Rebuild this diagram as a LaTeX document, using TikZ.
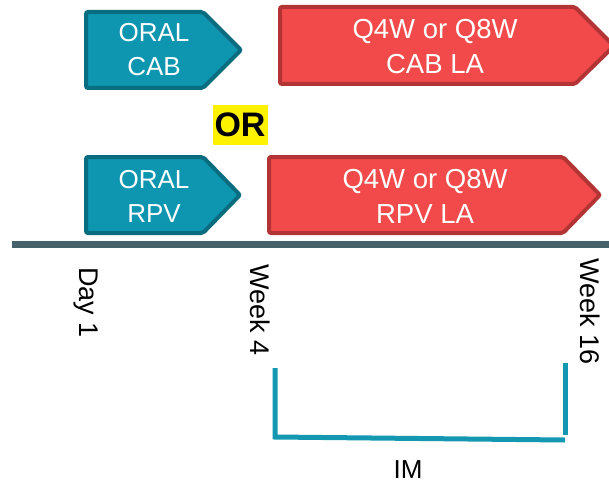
\documentclass[tikz,border=0pt]{standalone}
\usepackage{fontspec}
\setmainfont{Liberation Sans}

\definecolor{oralfill}{HTML}{0E96B0}
\definecolor{oralline}{HTML}{0A6D7F}
\definecolor{lafill}{HTML}{F24A4A}
\definecolor{laline}{HTML}{B33434}
\definecolor{axisgray}{HTML}{45616B}
\definecolor{imteal}{HTML}{1497B0}

\begin{document}
\begin{tikzpicture}[x=1pt, y=-1pt,
    oral/.style={fill=oralfill, draw=oralline, line width=4pt, rounded corners=2pt},
    la/.style={fill=lafill, draw=laline, line width=4pt, rounded corners=2pt},
    boxtext/.style={text=white, align=center, font=\fontsize{26}{34}\selectfont},
    latext/.style={boxtext, font=\fontsize{27.5}{35}\selectfont},
    timetext/.style={rotate=-90, anchor=west, inner sep=0pt, font=\fontsize{27}{30}\selectfont},
    imline/.style={draw=imteal, line width=5pt}]
    % --- 画布范围 ---
    \clip (0,0) rectangle (609,484);
    \def\axisY{244}   % 时间轴的高度

    % --- 第一行: ORAL CAB -> CAB LA ---
    \draw[oral] (86,12) -- (203,12) -- (241,50) -- (203,88) -- (86,88) -- cycle;
    \node[boxtext] (oralcab) at (154,50) {ORAL\\CAB};
    \draw[la] (280,7) -- (575,7) -- (614,46) -- (575,84) -- (280,84) -- cycle;
    \node[latext] (cabla) at (435,47) {Q4W or Q8W\\CAB LA};

    % --- OR 标签 ---
    \node[fill=yellow, font=\bfseries\fontsize{34}{40}\selectfont,
          minimum width=55pt, minimum height=40pt, inner sep=0pt, text depth=0pt] (orlabel) at (240,125) {OR};

    % --- 第二行: ORAL RPV -> RPV LA ---
    \draw[oral] (86,157) -- (203,157) -- (240,195) -- (203,233) -- (86,233) -- cycle;
    \node[boxtext] (oralrpv) at (154,196) {ORAL\\RPV};
    \draw[la] (269,157) -- (563,157) -- (600,195) -- (563,233) -- (269,233) -- cycle;
    \node[latext] (rpvla) at (425,196) {Q4W or Q8W\\RPV LA};

    % --- 时间轴 ---
    \draw[axisgray, line width=7pt] (12,\axisY) -- (609,\axisY);
    \node[timetext] (day1) at (86,267) {Day 1};
    \node[timetext] (week4) at (260,264) {Week 4};
    \node[timetext] (week16) at (590,258) {Week 16};

    % --- IM 区间 ---
    \coordinate (imstart) at (275,368);
    \coordinate (imleft) at (275,437);
    \coordinate (imright) at (565,440);
    \coordinate (imend) at (565,363);
    \draw[imline] (imstart) -- (imleft) -- (imright);
    \draw[imline] (imend) -- ([yshift=5pt]imright);
    \node[anchor=base, inner sep=0pt, font=\fontsize{26}{30}\selectfont] (imlabel) at (408,478) {IM};

\end{tikzpicture}
\end{document}
